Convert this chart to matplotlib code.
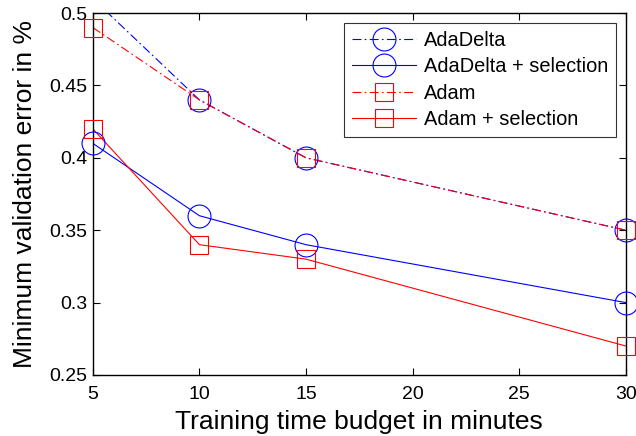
import numpy as np
import matplotlib
matplotlib.use("Agg")
import matplotlib.pyplot as plt
from matplotlib.lines import Line2D
from matplotlib.ticker import FormatStrFormatter

plt.rcParams['font.family'] = ['Liberation Sans', 'DejaVu Sans']

budget = [5, 10, 15, 30]
adadelta = [0.51, 0.44, 0.40, 0.35]
adadelta_sel = [0.41, 0.36, 0.34, 0.30]
adam = [0.49, 0.44, 0.40, 0.35]
adam_sel = [0.42, 0.34, 0.33, 0.27]
xticks = [5, 10, 15, 20, 25, 30]
yticks = [0.25, 0.3, 0.35, 0.4, 0.45, 0.5]

fig = plt.figure(figsize=(6.36, 4.36), dpi=100)
ax = fig.add_axes([0.146, 0.140, 0.838, 0.830])
ax.set_xlim(5, 30)
ax.set_ylim(0.25, 0.5)

dashdot = (0, (8, 3, 1.5, 3))
series = [
    (adadelta, 'blue', dashdot, 'o', 16.5, 'AdaDelta'),
    (adadelta_sel, 'blue', '-', 'o', 16.5, 'AdaDelta + selection'),
    (adam, 'red', dashdot, 's', 13, 'Adam'),
    (adam_sel, 'red', '-', 's', 13, 'Adam + selection'),
]
handles = []
x = np.array(budget)
for vals, c, ls, m, ms, lab in series:
    y = np.array(vals)
    ax.plot(x, y, color=c, linestyle=ls, linewidth=0.8)
    inside = y <= 0.5
    ax.plot(x[inside], y[inside], linestyle='none', marker=m, markersize=ms,
            markerfacecolor='none', markeredgecolor=c, markeredgewidth=0.8,
            clip_on=False, zorder=3)
    handles.append(Line2D([], [], color=c, linestyle=ls, linewidth=0.8, marker=m,
                          markersize=ms, markerfacecolor='none', markeredgecolor=c,
                          markeredgewidth=0.8))

ax.set_xticks(xticks)
ax.set_yticks(yticks)
ax.yaxis.set_major_formatter(FormatStrFormatter('%g'))
ax.tick_params(direction='in', top=True, right=True, labelsize=14, length=5, width=0.8)
ax.tick_params(axis='x', pad=8)
ax.tick_params(axis='y', pad=4)
for s in ax.spines.values():
    s.set_linewidth(1.0)
ax.set_xlabel('Training time budget in minutes', fontsize=19, labelpad=5)
ax.set_ylabel('Minimum validation error in %', fontsize=19, labelpad=8.5)

leg = ax.legend(handles=handles, labels=[s[5] for s in series], loc='upper right',
                fontsize=14.4, frameon=True, fancybox=False, edgecolor='black',
                handlelength=3.2, borderpad=0.4, labelspacing=0.37,
                handletextpad=0.4, borderaxespad=0.5)
leg.get_frame().set_linewidth(0.8)

fig.savefig('out.png', dpi=100)
